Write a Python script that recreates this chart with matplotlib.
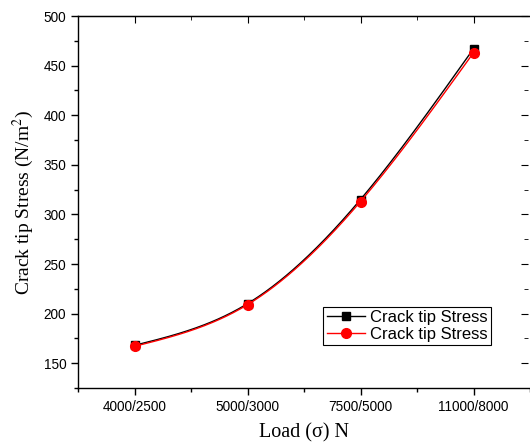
import matplotlib
matplotlib.use('Agg')
import matplotlib.pyplot as plt
import numpy as np
from matplotlib.ticker import MultipleLocator, FixedLocator

loads = ['4000/2500', '5000/3000', '7500/5000', '11000/8000']
stress_a = [168, 210, 315, 467]
stress_b = [167, 209, 313, 463]

plt.rcParams['mathtext.fontset'] = 'stix'


def spline(x, y, n=200):
    # natural cubic spline, only used to draw the smooth connecting line
    x = np.asarray(x, float)
    y = np.asarray(y, float)
    k = len(x)
    h = np.diff(x)
    A = np.zeros((k, k))
    b = np.zeros(k)
    A[0, 0] = A[-1, -1] = 1
    for i in range(1, k - 1):
        A[i, i - 1] = h[i - 1]
        A[i, i] = 2 * (h[i - 1] + h[i])
        A[i, i + 1] = h[i]
        b[i] = 6 * ((y[i + 1] - y[i]) / h[i] - (y[i] - y[i - 1]) / h[i - 1])
    M = np.linalg.solve(A, b)
    xs = np.linspace(x[0], x[-1], n)
    idx = np.clip(np.searchsorted(x, xs) - 1, 0, k - 2)
    x0, x1 = x[idx], x[idx + 1]
    hh = x1 - x0
    ys = (M[idx] * (x1 - xs) ** 3 / (6 * hh) + M[idx + 1] * (xs - x0) ** 3 / (6 * hh)
          + (y[idx] / hh - M[idx] * hh / 6) * (x1 - xs)
          + (y[idx + 1] / hh - M[idx + 1] * hh / 6) * (xs - x0))
    return xs, ys


pos = np.arange(1, len(loads) + 1)

fig = plt.figure(figsize=(5.3, 4.48), dpi=100)
ax = fig.add_axes([78 / 530, 1 - 388 / 448, 1 - 78 / 530, 372 / 448])

xs, ys = spline(pos, stress_a)
ax.plot(xs, ys, '-', color='black', lw=1)
ax.plot(pos, stress_a, 's', color='black', ms=6, label='_nolegend_')
xs, ys = spline(pos, stress_b)
ax.plot(xs, ys, '-', color='red', lw=1)
ax.plot(pos, stress_b, 'o', color='red', ms=7, label='_nolegend_')

# legend proxies
ax.plot([], [], '-s', color='black', lw=1, ms=6, label='Crack tip Stress')
ax.plot([], [], '-o', color='red', lw=1, ms=7, label='Crack tip Stress')

ax.set_xlim(0.5, 4.5)
ax.set_ylim(125, 500)
ax.set_xticks(pos)
ax.set_xticklabels(loads)
ax.xaxis.set_minor_locator(FixedLocator([0.5, 1.5, 2.5, 3.5, 4.5]))
ax.yaxis.set_major_locator(MultipleLocator(50))
ax.yaxis.set_minor_locator(MultipleLocator(25))

for lab in ax.get_xticklabels() + ax.get_yticklabels():
    lab.set_fontfamily('Liberation Sans')
    lab.set_fontsize(9.8)

ax.tick_params(which='both', direction='out', top=False, right=False, width=1)
ax.tick_params(which='major', length=5)
ax.tick_params(which='minor', length=3)

# inward ticks on top and right, no labels
for spine in ax.spines.values():
    spine.set_linewidth(1)
ax.spines['right'].set_visible(False)
ax2 = ax.secondary_xaxis('top')
ax2.set_xticks(pos)
ax2.xaxis.set_minor_locator(FixedLocator([0.5, 1.5, 2.5, 3.5, 4.5]))
ax2.tick_params(which='both', direction='in', labeltop=False)
ax2.tick_params(which='major', length=5)
ax2.tick_params(which='minor', length=3)
ax3 = ax.secondary_yaxis(0.995)
ax3.spines['right'].set_visible(False)
ax3.yaxis.set_major_locator(MultipleLocator(50))
ax3.yaxis.set_minor_locator(MultipleLocator(25))
ax3.tick_params(which='both', direction='in', labelright=False)
ax3.tick_params(which='major', length=5)
ax3.tick_params(which='minor', length=3)

ax.set_xlabel('Load (\u03c3) N', fontfamily='Liberation Serif', fontsize=14.5, labelpad=7)
ax.set_ylabel('Crack tip Stress (N/m$^2$)', fontfamily='Liberation Serif', fontsize=14, labelpad=5)

leg = ax.legend(loc='lower right', bbox_to_anchor=(0.9137, 0.1156),
                prop={'family': 'Liberation Sans', 'size': 12},
                fancybox=False, edgecolor='black', framealpha=1, borderpad=0.2,
                handlelength=2.3, handletextpad=0.3, labelspacing=0.1, borderaxespad=0)
leg.get_frame().set_linewidth(0.8)

fig.savefig('out.png', dpi=100)
